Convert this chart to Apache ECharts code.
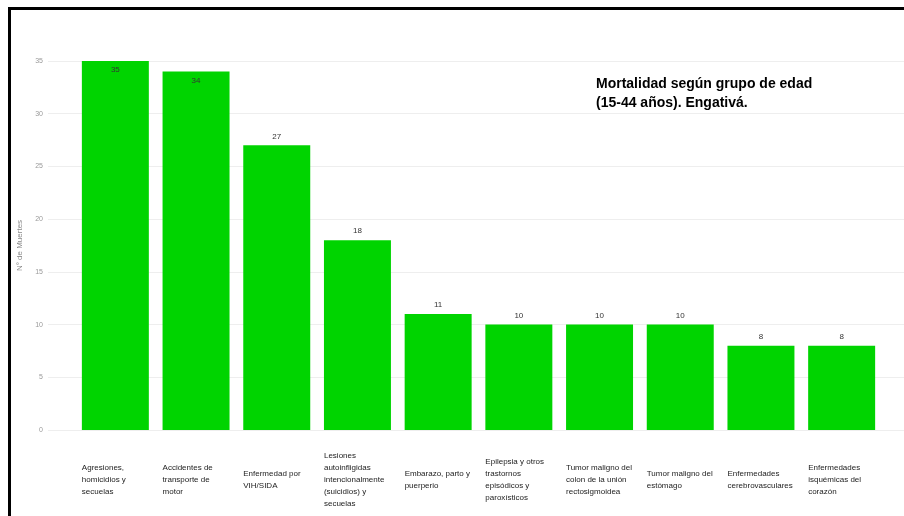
<!DOCTYPE html>
<html>
<head>
<meta charset="utf-8">
<script src="https://cdn.jsdelivr.net/npm/echarts@6/dist/echarts.min.js"></script>
<style>
html,body{margin:0;padding:0;background:#fff;overflow:hidden;}
#chart{position:absolute;left:0;top:0;width:904px;height:516px;}
#frame{position:absolute;left:8px;top:7px;width:1000px;height:600px;border-top:3px solid #000;border-left:3px solid #000;pointer-events:none;}
</style>
</head>
<body>
<div id="chart"></div>
<div id="frame"></div>
<script>
const categories = [
  "Agresiones,\nhomicidios y\nsecuelas",
  "Accidentes de\ntransporte de\nmotor",
  "Enfermedad por\nVIH/SIDA",
  "Lesiones\nautoinfligidas\nintencionalmente\n(suicidios) y\nsecuelas",
  "Embarazo, parto y\npuerperio",
  "Epilepsia y otros\ntrastornos\nepisódicos y\nparoxísticos",
  "Tumor maligno del\ncolon de la unión\nrectosigmoidea",
  "Tumor maligno del\nestómago",
  "Enfermedades\ncerebrovasculares",
  "Enfermedades\nisquémicas del\ncorazón"
];
const muertes = [35, 34, 27, 18, 11, 10, 10, 10, 8, 8];
const insideLabelIdx = [0, 1];
const yTicks = {min: 0, max: 35, interval: 5};
const titleText = "Mortalidad según grupo de edad\n(15-44 años). Engativá.";
const yName = "N° de Muertes";

const FONT = "'Liberation Sans', Arial, sans-serif";
const chart = echarts.init(document.getElementById('chart'), null, {renderer: 'canvas'});

const barData = muertes.map((v, i) => insideLabelIdx.includes(i)
  ? {value: v, label: {position: 'insideTop', distance: 5}}
  : {value: v});

chart.setOption({
  backgroundColor: 'transparent',
  animation: false,
  textStyle: {fontFamily: FONT},
  title: {
    text: titleText,
    left: 591, top: 70,
    textStyle: {fontFamily: FONT, fontSize: 14, fontWeight: 'bold', color: '#000', lineHeight: 19}
  },
  grid: [
    {left: 48, right: 0, top: 61, bottom: 86},
    {left: 75, right: 22, top: 61, bottom: 86}
  ],
  xAxis: [
    {gridIndex: 0, type: 'value', min: 0, max: 1, show: false},
    {
      gridIndex: 1, type: 'category', data: categories,
      axisLine: {show: false}, axisTick: {show: false},
      axisLabel: {
        interval: 0, margin: 50, width: 67, align: 'center', verticalAlign: 'middle',
        formatter: v => v.split('\n').map(s => '{a|' + s + '}').join('\n'),
        rich: {a: {align: 'left', fontSize: 8, lineHeight: 12, color: '#222', fontFamily: FONT}}
      }
    }
  ],
  yAxis: [
    {
      gridIndex: 0, type: 'value', min: yTicks.min, max: yTicks.max, interval: yTicks.interval,
      name: yName, nameLocation: 'middle', nameRotate: 90, nameGap: 24,
      nameTextStyle: {fontSize: 8, color: '#888', fontFamily: FONT},
      axisLine: {show: false}, axisTick: {show: false},
      axisLabel: {fontSize: 7, color: '#999', margin: 5, fontFamily: FONT},
      splitLine: {lineStyle: {color: '#eeeeee', width: 1}}
    },
    {
      gridIndex: 1, type: 'value', min: yTicks.min, max: yTicks.max, interval: yTicks.interval,
      show: false, splitLine: {show: false}
    }
  ],
  series: [{
    type: 'bar', xAxisIndex: 1, yAxisIndex: 1,
    data: barData,
    barCategoryGap: '17%',
    itemStyle: {color: '#00d400'},
    label: {show: true, position: 'top', distance: 5, fontSize: 8, color: '#333', fontFamily: FONT}
  }]
});
</script>
</body>
</html>
